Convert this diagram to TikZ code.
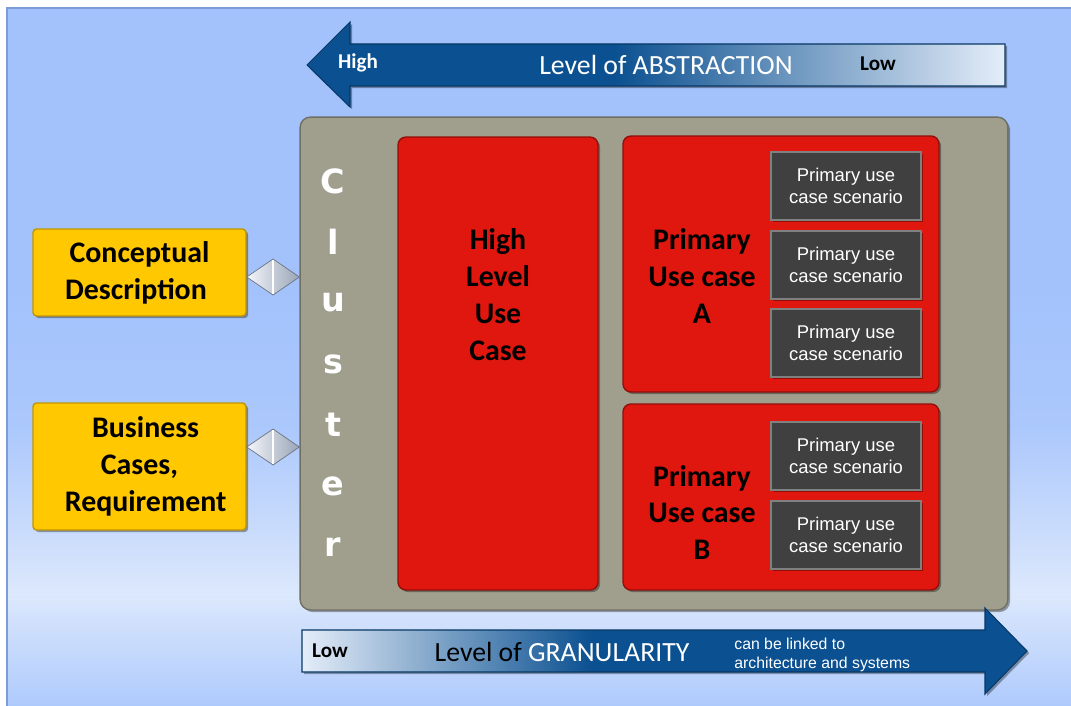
\documentclass[tikz,border=0pt]{standalone}
\usepackage{fontspec}
\setmainfont{Carlito}
\newfontfamily\arialfont{Liberation Sans}
\newfontfamily\heavyfont{DejaVu Sans}
\usetikzlibrary{calc,positioning,shapes.geometric,shadows}

\definecolor{bgblue}{HTML}{A3C2FC}
\definecolor{bglight}{HTML}{DCE8FC}
\definecolor{bgbottom}{HTML}{AECAFC}
\definecolor{bgedge}{HTML}{7C9CD8}
\definecolor{arrowblue}{HTML}{0B5090}
\definecolor{arrowlight}{HTML}{E4EDF9}
\definecolor{ucred}{HTML}{E0170F}
\definecolor{clustergray}{HTML}{A09F8E}
\definecolor{scengray}{HTML}{404040}
\definecolor{docyellow}{HTML}{FFC800}
\definecolor{linksilver}{HTML}{B4C2D8}

\pgfdeclareverticalshading{bgshade}{100bp}{color(0bp)=(bgbottom); color(25bp)=(bgbottom); color(33bp)=(bglight); color(45bp)=(bgblue!85!bglight); color(55bp)=(bgblue); color(100bp)=(bgblue)}
\pgfdeclarehorizontalshading{abstrshade}{100bp}{color(0bp)=(arrowblue); color(47bp)=(arrowblue); color(75bp)=(arrowlight); color(100bp)=(arrowlight)}
\pgfdeclarehorizontalshading{granshade}{100bp}{color(0bp)=(arrowlight); color(25bp)=(arrowlight); color(45bp)=(arrowblue); color(100bp)=(arrowblue)}

\begin{document}
\begin{tikzpicture}[x=0.02cm,y=-0.02cm,
    every node/.style={inner sep=0pt},
    softshadow/.style={drop shadow={shadow xshift=1.2pt,shadow yshift=-1.2pt,fill=black,opacity=0.35}},
    clusterbox/.style={draw=clustergray!70!black,fill=clustergray,rounded corners=6pt,line width=0.8pt,softshadow,minimum width=14.16cm,minimum height=9.86cm},
    ucbox/.style={draw=ucred!65!black,fill=ucred,rounded corners=4.5pt,line width=0.8pt,softshadow},
    scenbox/.style={draw=black!50,fill=scengray,line width=0.8pt,softshadow,minimum width=3cm,minimum height=1.36cm,
        align=center,text=white,font=\arialfont\fontsize{10.5}{12.5}\selectfont},
    docbox/.style={draw=docyellow!75!black,fill=docyellow,rounded corners=2pt,line width=0.8pt,softshadow,minimum width=4.26cm,
        align=center,font=\bfseries\fontsize{17}{21}\selectfont},
    titletext/.style={align=center,font=\bfseries\fontsize{17}{21}\selectfont},
    clusterletter/.style={text=white,font=\heavyfont\bfseries\fontsize{19}{22}\selectfont},
    linkshape/.style={left color=white!85!linksilver,right color=linksilver!85!black},
    bigarrow/.style={draw=arrowblue!70!black,line width=0.6pt,softshadow}]
    \useasboundingbox (0,0) rectangle (1071,706);
    \fill[white] (0,0) rectangle (1071,706);
    \shade[shading=bgshade] (7,8) rectangle (1071,706);
    \draw[bgedge,line width=1pt] (7,706) -- (7,8) -- (1071,8);

    \path[bigarrow,shading=abstrshade] (307,65) -- (350,22) -- (350,44) -- (1005,44) -- (1005,86) -- (350,86) -- (350,107) -- cycle;
    \node[text=white,font=\bfseries\fontsize{12}{14}\selectfont] (high) at (358,63) {High};
    \node[text=white,font=\fontsize{15.8}{18}\selectfont] (abstraction) at (666,65) {Level of ABSTRACTION};
    \node[font=\bfseries\fontsize{12}{14}\selectfont] (lowtop) at (878,64) {Low};

    \node[clusterbox] (cluster) at (654,363.5) {};
    \foreach \ch [count=\i] in {C,l,u,s,t,e,r}
        \node[clusterletter] (letter\i) at (333,120+61*\i) {\ch};

    \node[ucbox,minimum width=4cm,minimum height=9.06cm] (hluc) at (498,363.5) {};
    \node[titletext] (hluctext) at (498,294.5) {High\\Level\\Use\\Case};

    \node[ucbox,minimum width=6.32cm,minimum height=5.12cm] (ucA) at (781,264) {};
    \node[titletext] (ucAtext) at (702,276) {Primary\\Use case\\A};
    \foreach \y [count=\i] in {186,265,343}
        \node[scenbox] (scenA\i) at (846,\y) {Primary use\\case scenario};

    \node[ucbox,minimum width=6.32cm,minimum height=3.72cm] (ucB) at (781,497) {};
    \node[titletext] (ucBtext) at (702,512.5) {Primary\\Use case\\B};
    \foreach \y [count=\i] in {456,535}
        \node[scenbox] (scenB\i) at (846,\y) {Primary use\\case scenario};

    \node[docbox,minimum height=1.74cm] (concept) at (139.5,272.5) {Conceptual\\Description\hspace*{4pt}};
    \node[docbox,minimum height=2.54cm] (business) at (139.5,466.5) {\hspace*{7pt}Business\\Cases,\\\hspace*{7pt}Requirement};

    \coordinate (linkA) at ($(concept.east)+(0,4.5)$);
    \coordinate (linkB) at ($(business.east)+(0,-19.5)$);
    \foreach \c in {linkA,linkB} {
        \shade[linkshape,draw=linksilver!60!black,line width=0.4pt] (\c) -- ($(\c)!0.5!(\c -| cluster.west)+(0,-18)$)
            -- (\c -| cluster.west) -- ($(\c)!0.5!(\c -| cluster.west)+(0,18)$) -- cycle;
        \draw[white,line width=0.8pt] ($(\c)!0.5!(\c -| cluster.west)+(0,-17)$) -- ($(\c)!0.5!(\c -| cluster.west)+(0,17)$);
    }

    \path[bigarrow,shading=granshade] (302,630) -- (985,630) -- (985,608) -- (1027,651) -- (985,694) -- (985,672) -- (302,672) -- cycle;
    \node[font=\bfseries\fontsize{12}{14}\selectfont] (lowbottom) at (330,651) {Low};
    \node[font=\fontsize{15.8}{18}\selectfont] (granularity) at (562,652) {Level of \textcolor{white}{GRANULARITY}};
    \node[anchor=west,align=left,text=white,font=\arialfont\fontsize{9}{10.5}\selectfont] (linked) at (734,655) {can be linked to\\architecture and systems};
\end{tikzpicture}
\end{document}
